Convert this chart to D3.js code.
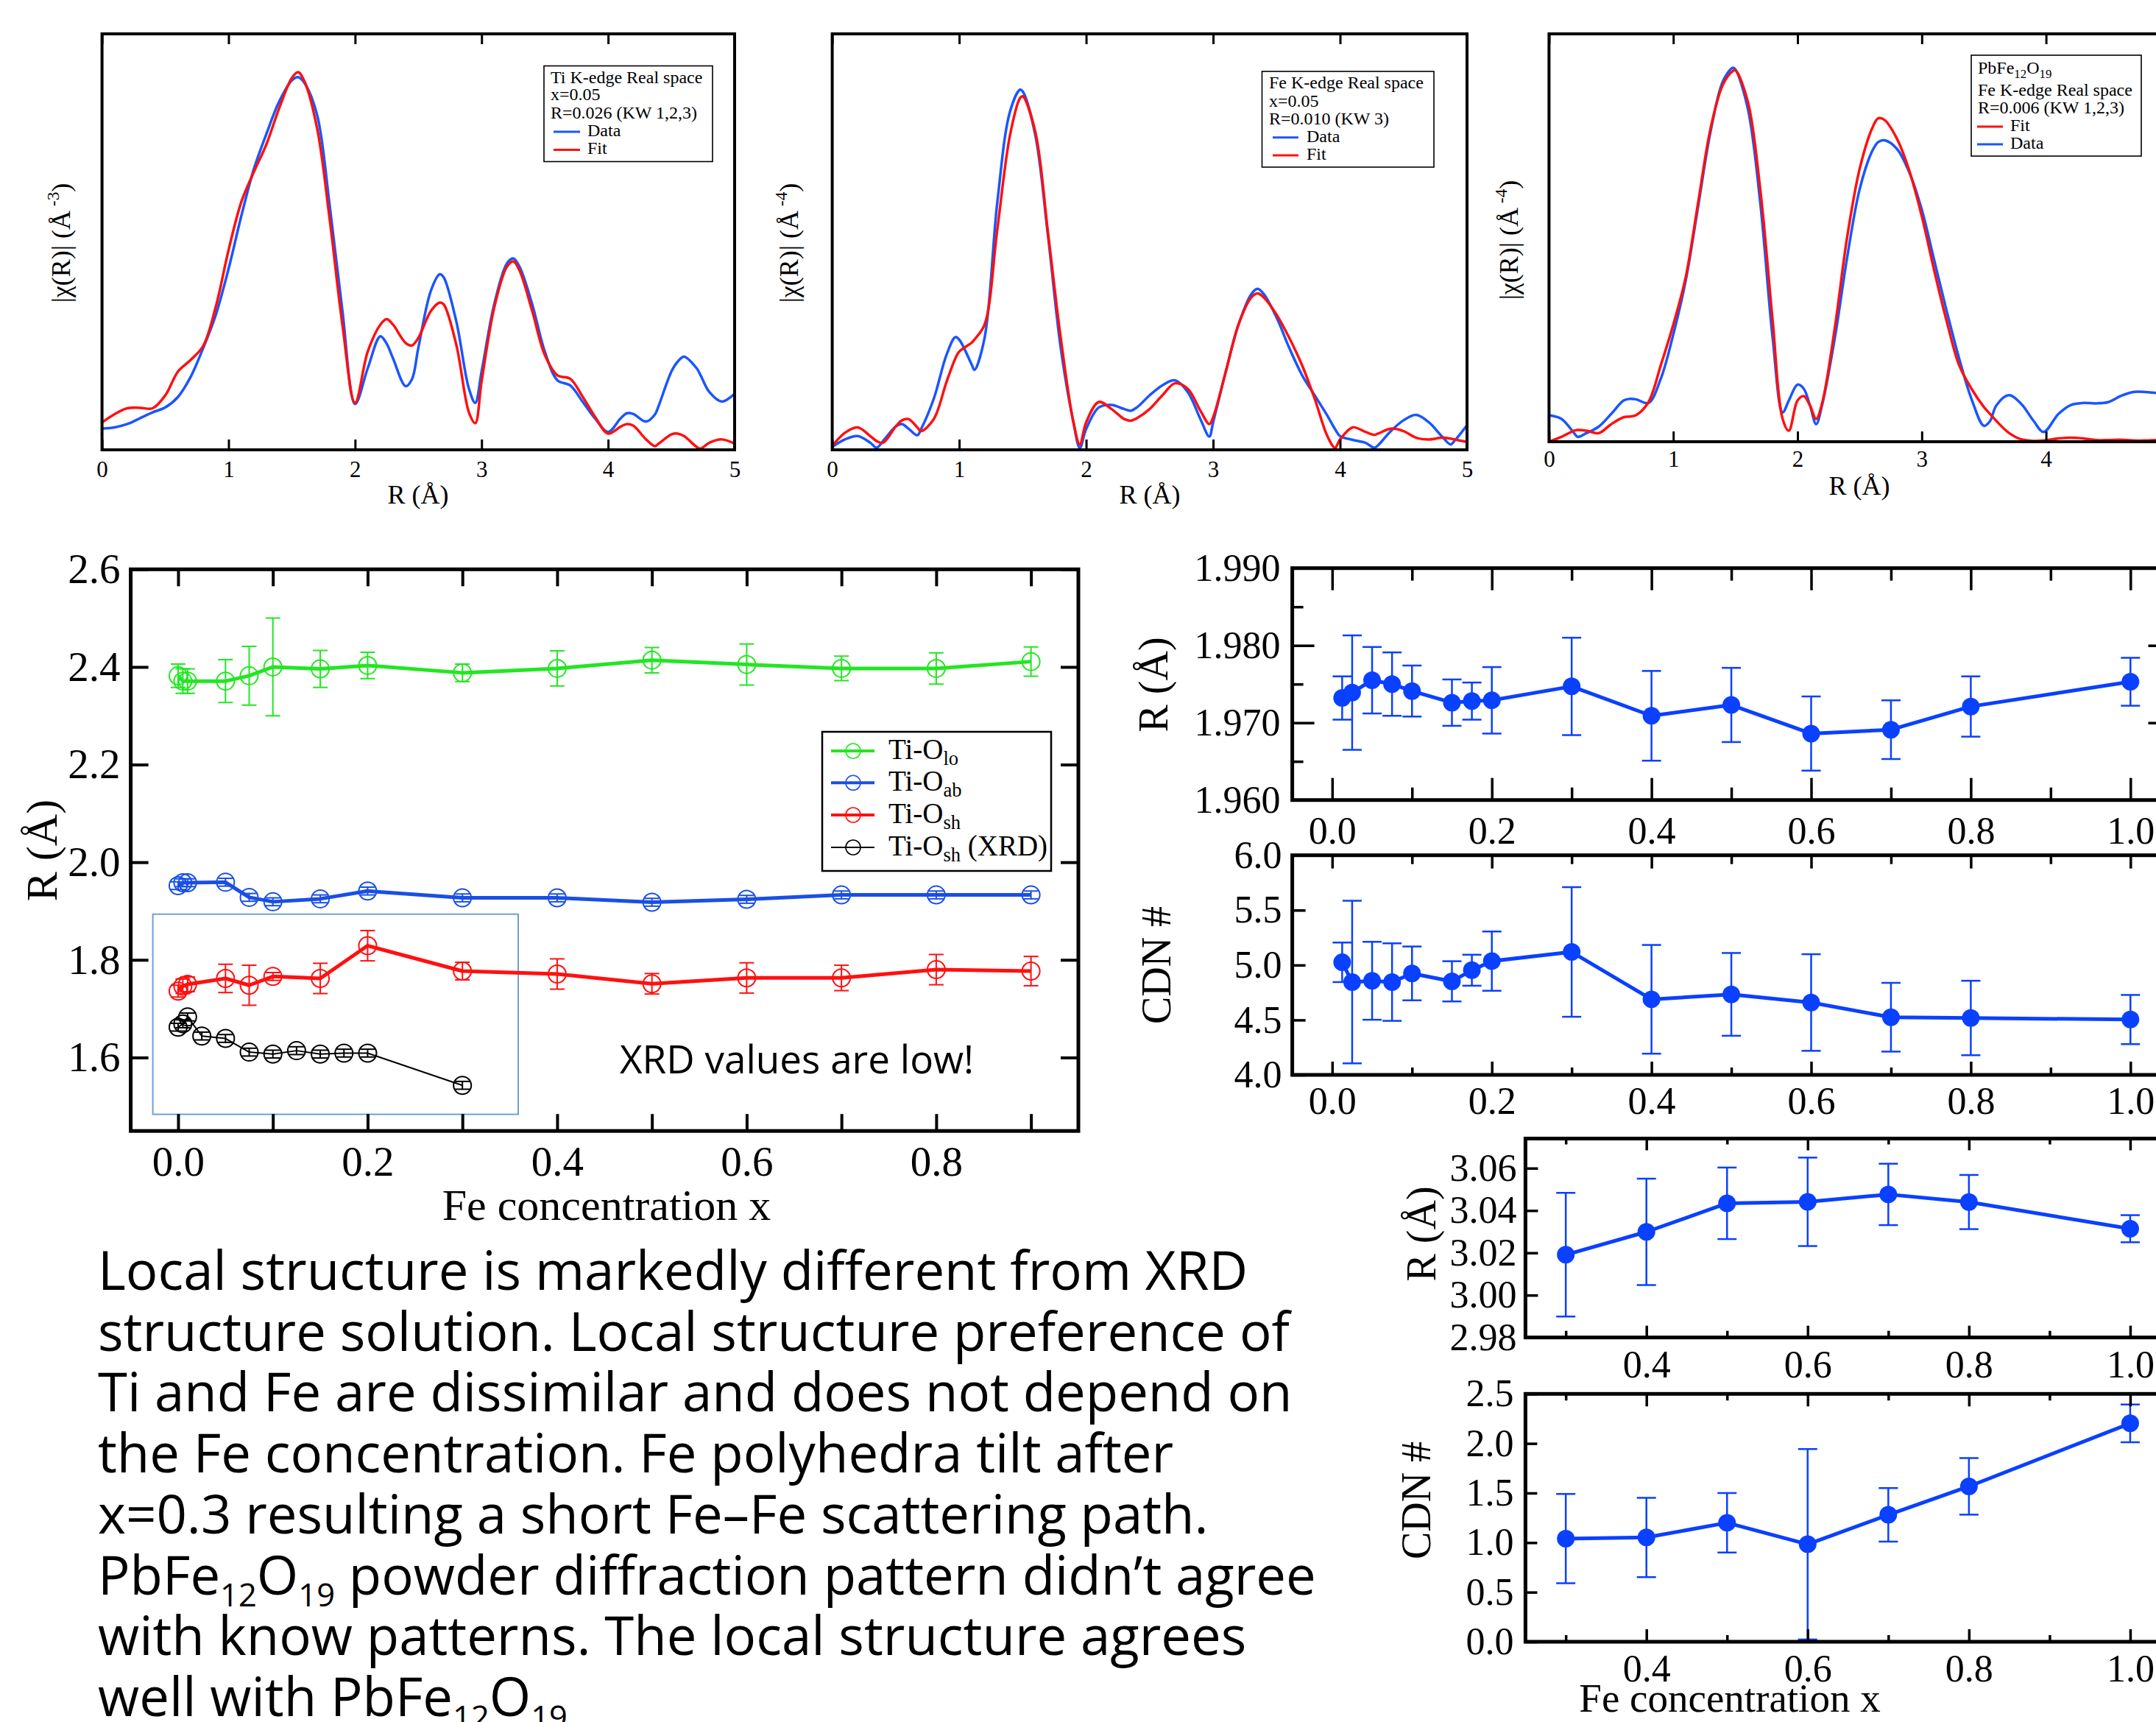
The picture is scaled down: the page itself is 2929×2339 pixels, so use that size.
<!DOCTYPE html>
<html><head><meta charset="utf-8">
<script src="https://cdn.jsdelivr.net/npm/d3@7/dist/d3.min.js"></script>
<style>body{margin:0;background:#fff}svg{display:block}</style>
</head><body>
<svg id="c" width="2929" height="2339"></svg>
<script>
// ================= DATA =================
// Panel A: Ti K-edge |chi(R)| (arbitrary units, fraction of frame height)
const gridTi = [0,0.1,0.2,0.3,0.4,0.5,0.6,0.7,0.8,0.9,1.0,1.1,1.2,1.3,1.4,1.5,
  1.55,1.6,1.7,1.8,1.9,2.0,
  2.1,2.2,2.25,2.3,2.4,2.45,2.5,2.6,2.67,2.7,2.8,2.9,2.95,3.0,
  3.1,3.2,3.25,3.3,3.4,3.5,3.6,3.7,3.8,3.9,4.0,
  4.1,4.15,4.2,4.3,4.37,4.4,4.5,4.55,4.6,4.7,4.73,4.8,4.9,5.0];
const tiDataChi = [0.051,0.054,0.062,0.076,0.090,0.102,0.127,0.175,0.245,0.325,0.435,0.561,0.675,0.760,0.837,0.888,
  0.896,0.882,0.805,0.586,0.334,0.110,
  0.196,0.273,0.255,0.220,0.153,0.170,0.245,0.383,0.422,0.415,0.309,0.147,0.113,0.188,
  0.350,0.448,0.460,0.440,0.350,0.236,0.167,0.155,0.115,0.074,0.043,
  0.076,0.088,0.086,0.068,0.085,0.106,0.188,0.212,0.224,0.196,0.180,0.139,0.116,0.135];
const tiFitChi = [0.066,0.086,0.100,0.101,0.100,0.131,0.188,0.216,0.250,0.345,0.480,0.595,0.668,0.735,0.821,0.894,
  0.908,0.886,0.773,0.553,0.301,0.113,
  0.236,0.301,0.314,0.301,0.257,0.251,0.269,0.334,0.354,0.350,0.253,0.090,0.064,0.164,
  0.342,0.440,0.453,0.431,0.334,0.228,0.179,0.171,0.127,0.078,0.039,
  0.056,0.062,0.058,0.025,0.009,0.015,0.037,0.039,0.033,0.007,0.003,0.017,0.025,0.015];

// Panel B: Fe K-edge x=0.05
const gridFe = [0,0.1,0.2,0.3,0.35,0.4,0.5,0.55,0.6,0.67,0.7,0.8,0.9,0.97,
  1.0,1.1,1.12,1.2,1.3,1.4,1.48,1.5,1.6,1.7,1.8,1.9,1.95,
  2.0,2.1,2.2,2.3,2.35,2.4,2.5,2.6,2.7,2.8,2.9,2.97,
  3.0,3.1,3.2,3.3,3.35,3.4,3.5,3.6,3.7,3.8,3.9,3.96,
  4.0,4.1,4.2,4.27,4.3,4.4,4.5,4.6,4.7,4.8,4.87,4.9,5.0];
const feDataChi = [0.007,0.025,0.033,0.017,0.005,0.021,0.056,0.062,0.051,0.035,0.050,0.123,0.228,0.271,
  0.265,0.204,0.192,0.269,0.594,0.813,0.866,0.862,0.756,0.513,0.245,0.066,0.005,
  0.050,0.102,0.108,0.098,0.094,0.102,0.131,0.155,0.167,0.139,0.074,0.032,
  0.066,0.188,0.301,0.374,0.387,0.374,0.318,0.245,0.180,0.131,0.082,0.050,
  0.033,0.024,0.017,0.005,0.011,0.045,0.071,0.084,0.066,0.033,0.013,0.021,0.059];
const feFitChi = [0.009,0.041,0.054,0.033,0.021,0.017,0.056,0.071,0.074,0.054,0.045,0.074,0.163,0.220,
  0.236,0.258,0.265,0.301,0.529,0.756,0.846,0.850,0.764,0.521,0.269,0.066,0.013,
  0.066,0.115,0.098,0.074,0.070,0.076,0.098,0.131,0.160,0.147,0.094,0.062,
  0.078,0.188,0.301,0.366,0.376,0.366,0.325,0.269,0.204,0.123,0.033,0.005,
  0.025,0.054,0.043,0.036,0.039,0.051,0.045,0.029,0.025,0.029,0.027,0.025,0.019];

// Panel C: PbFe12O19 Fe K-edge
const gridPb = [0,0.1,0.2,0.23,0.3,0.4,0.5,0.6,0.65,0.7,0.8,0.9,
  1.0,1.1,1.2,1.3,1.4,1.48,1.5,1.6,1.7,1.8,1.88,1.93,
  2.0,2.05,2.1,2.15,2.2,2.3,2.4,2.5,2.6,2.65,2.7,2.8,2.9,
  3.0,3.1,3.2,3.3,3.4,3.5,3.55,3.6,3.7,3.8,3.9,3.98,
  4.1,4.2,4.3,4.4,4.5,4.6,4.7,4.8,4.9,5.0];
const pbDataChi = [0.065,0.056,0.022,0.012,0.021,0.037,0.068,0.101,0.105,0.104,0.095,0.155,
  0.263,0.395,0.577,0.760,0.884,0.917,0.913,0.817,0.586,0.254,0.072,0.101,
  0.140,0.130,0.089,0.043,0.093,0.254,0.453,0.619,0.712,0.735,0.739,0.718,0.660,
  0.569,0.445,0.321,0.205,0.105,0.039,0.051,0.089,0.114,0.093,0.051,0.024,
  0.068,0.090,0.095,0.094,0.097,0.112,0.122,0.122,0.119,0.118];
const pbFitChi = [0.000,0.012,0.027,0.029,0.027,0.021,0.043,0.060,0.062,0.065,0.097,0.188,
  0.287,0.403,0.586,0.768,0.876,0.909,0.911,0.834,0.619,0.296,0.056,0.027,
  0.101,0.112,0.089,0.056,0.097,0.279,0.503,0.669,0.768,0.793,0.789,0.743,0.664,
  0.553,0.420,0.296,0.188,0.130,0.085,0.068,0.051,0.022,0.006,0.002,0.003,
  0.008,0.010,0.008,0.004,0.004,0.005,0.003,0.003,0.004,0.004];
const chiTicks = [0,1,2,3,4,5];

// Panel D: Ti-O distances vs Fe concentration
const xTi = [0,0.005,0.01,0.05,0.075,0.1,0.15,0.2,0.3,0.4,0.5,0.6,0.7,0.8,0.9];
const tiOlo = [2.382,2.371,2.371,2.371,2.382,2.400,2.396,2.403,2.388,2.397,2.414,2.405,2.397,2.397,2.411];
const tiOloErr = [0.024,0.025,0.025,0.044,0.060,0.100,0.038,0.027,0.018,0.036,0.026,0.042,0.025,0.032,0.030];
const tiOab = [1.952,1.958,1.958,1.959,1.928,1.919,1.925,1.941,1.927,1.927,1.918,1.924,1.933,1.933,1.933];
const tiOabErr = [0.008,0.008,0.008,0.008,0.008,0.008,0.008,0.008,0.008,0.008,0.008,0.008,0.008,0.008,0.008];
const tiOsh = [1.736,1.746,1.750,1.762,1.748,1.766,1.762,1.829,1.777,1.771,1.751,1.763,1.763,1.780,1.777];
const tiOshErr = [0.012,0.015,0.015,0.029,0.041,0.008,0.031,0.031,0.018,0.031,0.021,0.031,0.026,0.031,0.030];
const xXRD = [0,0.005,0.01,0.025,0.05,0.075,0.1,0.125,0.15,0.175,0.2,0.3];
const tiOshXRD = [1.662,1.669,1.683,1.644,1.639,1.611,1.607,1.614,1.607,1.609,1.609,1.543];
const tiOshXRDErr = [0.008,0.008,0.008,0.008,0.008,0.008,0.008,0.008,0.008,0.008,0.008,0.008];
const tiXTicks = [0,0.1,0.2,0.3,0.4,0.5,0.6,0.7,0.8,0.9];
const tiXLabels = [0,0.2,0.4,0.6,0.8];
const tiYTicks = [1.6,1.8,2.0,2.2,2.4,2.6];

// Panels E/F: Fe-O distance and coordination
const xFeO = [0.0125,0.025,0.05,0.075,0.1,0.15,0.175,0.2,0.3,0.4,0.5,0.6,0.7,0.8,1.0];
const feOR = [1.9732,1.9739,1.9755,1.9750,1.9741,1.9726,1.9728,1.9729,1.9747,1.9709,1.9723,1.9686,1.9691,1.9721,1.9753];
const feORErr = [0.0028,0.0074,0.0043,0.0041,0.0033,0.0030,0.0024,0.0043,0.0063,0.0058,0.0048,0.0048,0.0038,0.0039,0.0031];
const feON = [5.025,4.845,4.857,4.845,4.924,4.852,4.953,5.036,5.119,4.688,4.733,4.659,4.525,4.518,4.504];
const feONErr = [0.18,0.74,0.355,0.353,0.245,0.183,0.141,0.27,0.59,0.495,0.377,0.44,0.313,0.339,0.224];
const feOXMajor = [0,0.2,0.4,0.6,0.8,1.0];
const feOXMinor = [0.1,0.3,0.5,0.7,0.9];
const feORTicks = [1.96,1.97,1.98,1.99];
const feORMinor = [1.965,1.975,1.985];
const feONTicks = [4.0,4.5,5.0,5.5,6.0];

// Panels G/H: Fe-Fe distance and coordination
const xFeFe = [0.3,0.4,0.5,0.6,0.7,0.8,1.0];
const feFeR = [3.0191,3.0299,3.0434,3.0441,3.0476,3.0440,3.0314];
const feFeRErr = [0.0292,0.0251,0.0169,0.0209,0.0145,0.0128,0.0064];
const feFeN = [1.040,1.052,1.200,0.983,1.280,1.567,2.203];
const feFeNErr = [0.45,0.40,0.30,0.96,0.27,0.285,0.19];
const feFeXMajor = [0.4,0.6,0.8,1.0];
const feFeXMinor = [0.3,0.5,0.7,0.9];
const feFeRTicks = [2.98,3.00,3.02,3.04,3.06];
const feFeNTicks = [0.0,0.5,1.0,1.5,2.0,2.5];

// ================= DRAWING =================
const svg = d3.select("#c");
const defs = svg.append("defs");
const SERIF = "'Liberation Serif','Times New Roman',Times,serif";
const SANS = "'Open Sans','Noto Sans',sans-serif";
const C_BLUE = "#1a55ff", C_RED = "#ff1010", C_GREEN = "#22e622", C_DBLUE = "#1a4fe6", C_FE = "#0a40ff";

function richText(parent, x, y, parts, fs, family, anchor, subScale, subShift) {
  const t = parent.append("text").attr("x", x).attr("y", y)
    .attr("font-family", family).attr("font-size", fs)
    .attr("text-anchor", anchor || "start").attr("fill", "#000");
  let cur = 0;
  parts.forEach(p => {
    const s = typeof p === "string" ? p : p[0];
    const kind = typeof p === "string" ? null : p[1];
    const target = kind === "sub" ? fs * subShift : (kind === "sup" ? -fs * 0.42 : 0);
    const ts = t.append("tspan").text(s).attr("dy", target - cur);
    if (kind) ts.attr("font-size", fs * subScale);
    cur = target;
  });
  return t;
}

function styleAxis(sel, fs, tw) {
  sel.select(".domain").remove();
  sel.selectAll(".tick line").attr("stroke", "#000").attr("stroke-width", tw);
  sel.selectAll(".tick text").attr("font-family", SERIF).attr("font-size", fs).attr("fill", "#000");
}

function clipRect(id, x0, y0, x1, y1) {
  defs.append("clipPath").attr("id", id).append("rect")
    .attr("x", x0).attr("y", y0).attr("width", x1 - x0).attr("height", y1 - y0);
  return `url(#${id})`;
}

// ---------- chi(R) panels ----------
function chiPanel(o) {
  const x = d3.scaleLinear().domain([0, 5]).range([o.l, o.r]);
  const y = d3.scaleLinear().domain([0, 1]).range([o.b, o.t]);
  const g = svg.append("g");
  const clip = clipRect("clip" + o.id, o.l, o.t, o.r, o.b);
  const line = d3.line().x((d, i) => x(o.grid[i])).y(d => y(d)).curve(d3.curveCatmullRom.alpha(0.5));
  o.series.forEach(s => g.append("path").attr("d", line(s.v)).attr("fill", "none")
    .attr("stroke", s.c).attr("stroke-width", 3.5).attr("stroke-linejoin", "round").attr("clip-path", clip));
  const ab = g.append("g").attr("transform", `translate(0,${o.b})`)
    .call(d3.axisBottom(x).tickValues(chiTicks).tickSize(-14).tickPadding(o.pad).tickFormat(d3.format("d")));
  styleAxis(ab, 31, 3);
  const at = g.append("g").attr("transform", `translate(0,${o.t})`)
    .call(d3.axisTop(x).tickValues(chiTicks).tickSize(-14).tickFormat(""));
  styleAxis(at, 31, 3);
  g.append("rect").attr("x", o.l).attr("y", o.t).attr("width", o.r - o.l).attr("height", o.b - o.t)
    .attr("fill", "none").attr("stroke", "#000").attr("stroke-width", 4);
  richText(g, o.xlx, o.xly, ["R (Å)"], 36, SERIF, "middle", 1, 0);
  const yl = g.append("g").attr("transform", `translate(${o.ylx},${o.yly}) rotate(-90)`);
  richText(yl, 0, 0, ["|χ(R)| (Å", [" -" + o.pow, "sup"], ")"], 36, SERIF, "middle", 0.65, 0);
  // legend
  const L = o.leg;
  g.append("rect").attr("x", L.x0).attr("y", L.y0).attr("width", L.x1 - L.x0).attr("height", L.y1 - L.y0)
    .attr("fill", "#fff").attr("stroke", "#000").attr("stroke-width", 1.6);
  L.rows.forEach(r => {
    if (r.c) {
      g.append("line").attr("x1", L.lx0).attr("x2", L.lx1).attr("y1", r.y - 6).attr("y2", r.y - 6)
        .attr("stroke", r.c).attr("stroke-width", 3);
      richText(g, L.tx2, r.y, r.parts, 24, SERIF, "start", 0.7, 0.25);
    } else {
      richText(g, L.tx, r.y, r.parts, 24, SERIF, "start", 0.7, 0.25);
    }
  });
}

chiPanel({id: "A", l: 138.6, r: 998, t: 46, b: 611, pad: 15, grid: gridTi,
  series: [{v: tiDataChi, c: C_BLUE}, {v: tiFitChi, c: C_RED}],
  xlx: 568, xly: 684, ylx: 95, yly: 330, pow: "3",
  leg: {x0: 739, y0: 89.5, x1: 968, y1: 219.5, tx: 748, tx2: 798, lx0: 752, lx1: 788,
    rows: [{y: 112.5, parts: ["Ti K-edge Real space"]}, {y: 136.4, parts: ["x=0.05"]},
      {y: 160.7, parts: ["R=0.026 (KW 1,2,3)"]}, {y: 185, parts: ["Data"], c: C_BLUE},
      {y: 209.4, parts: ["Fit"], c: C_RED}]}});

chiPanel({id: "B", l: 1130.6, r: 1993, t: 46, b: 611, pad: 15, grid: gridFe,
  series: [{v: feDataChi, c: C_BLUE}, {v: feFitChi, c: C_RED}],
  xlx: 1562, xly: 684, ylx: 1084, yly: 330, pow: "4",
  leg: {x0: 1714.5, y0: 97, x1: 1948, y1: 227, tx: 1724, tx2: 1775, lx0: 1729, lx1: 1764,
    rows: [{y: 120.3, parts: ["Fe K-edge Real space"]}, {y: 144.6, parts: ["x=0.05"]},
      {y: 169, parts: ["R=0.010 (KW 3)"]}, {y: 192.8, parts: ["Data"], c: C_BLUE},
      {y: 217, parts: ["Fit"], c: C_RED}]}});

chiPanel({id: "C", l: 2104.4, r: 2948.4, t: 46, b: 600, pad: 12, grid: gridPb,
  series: [{v: pbDataChi, c: C_BLUE}, {v: pbFitChi, c: C_RED}],
  xlx: 2526, xly: 672, ylx: 2062, yly: 326, pow: "4",
  leg: {x0: 2678, y0: 75, x1: 2909, y1: 212, tx: 2687, tx2: 2731, lx0: 2686, lx1: 2721,
    rows: [{y: 100, parts: ["PbFe", ["12", "sub"], "O", ["19", "sub"]]}, {y: 129.5, parts: ["Fe K-edge Real space"]},
      {y: 153.8, parts: ["R=0.006 (KW 1,2,3)"]}, {y: 178, parts: ["Fit"], c: C_RED},
      {y: 202, parts: ["Data"], c: C_BLUE}]}});

// ---------- Panel D ----------
(function () {
  const l = 177.6, r = 1465, t = 773.3, b = 1536.2;
  const x = d3.scaleLinear().domain([-0.05, 0.95]).range([l, r]);
  const y = d3.scaleLinear().domain([1.4495, 2.6]).range([b, t]);
  const g = svg.append("g");
  const clip = clipRect("clipD", l, t, r, b);
  // inset box
  g.append("rect").attr("x", 207.6).attr("y", 1241.7).attr("width", 496.4).attr("height", 271.9)
    .attr("fill", "none").attr("stroke", "#6f9fd8").attr("stroke-width", 2);
  const series = [
    {xs: xTi, v: tiOlo, e: tiOloErr, c: C_GREEN, w: 5},
    {xs: xTi, v: tiOab, e: tiOabErr, c: C_DBLUE, w: 5},
    {xs: xTi, v: tiOsh, e: tiOshErr, c: C_RED, w: 5},
    {xs: xXRD, v: tiOshXRD, e: tiOshXRDErr, c: "#000", w: 2}
  ];
  series.forEach(s => {
    const ln = d3.line().x((d, i) => x(s.xs[i])).y(d => y(d));
    g.append("path").attr("d", ln(s.v)).attr("fill", "none").attr("stroke", s.c)
      .attr("stroke-width", s.w).attr("stroke-linejoin", "round").attr("clip-path", clip);
    const eg = g.append("g").attr("stroke", s.c).attr("stroke-width", 2).attr("clip-path", clip);
    s.v.forEach((v, i) => {
      const cx = x(s.xs[i]), y0 = y(v - s.e[i]), y1 = y(v + s.e[i]);
      eg.append("line").attr("x1", cx).attr("x2", cx).attr("y1", y0).attr("y2", y1);
      eg.append("line").attr("x1", cx - 10).attr("x2", cx + 10).attr("y1", y0).attr("y2", y0);
      eg.append("line").attr("x1", cx - 10).attr("x2", cx + 10).attr("y1", y1).attr("y2", y1);
    });
    g.append("g").selectAll("circle").data(s.v).join("circle")
      .attr("cx", (d, i) => x(s.xs[i])).attr("cy", d => y(d)).attr("r", 12)
      .attr("fill", "none").attr("stroke", s.c).attr("stroke-width", 2);
  });
  const fmt1 = d3.format(".1f");
  const ab = g.append("g").attr("transform", `translate(0,${b})`)
    .call(d3.axisBottom(x).tickValues(tiXTicks).tickSize(-23).tickPadding(20)
      .tickFormat(d => tiXLabels.some(v => Math.abs(v - d) < 1e-9) ? fmt1(d) : ""));
  styleAxis(ab, 57, 4);
  const at = g.append("g").attr("transform", `translate(0,${t})`)
    .call(d3.axisTop(x).tickValues(tiXTicks).tickSize(-23).tickFormat(""));
  styleAxis(at, 57, 4);
  const al = g.append("g").attr("transform", `translate(${l},0)`)
    .call(d3.axisLeft(y).tickValues(tiYTicks).tickSize(-24).tickPadding(14).tickFormat(fmt1));
  styleAxis(al, 57, 4);
  const ar = g.append("g").attr("transform", `translate(${r},0)`)
    .call(d3.axisRight(y).tickValues(tiYTicks).tickSize(-24).tickFormat(""));
  styleAxis(ar, 57, 4);
  g.append("rect").attr("x", l).attr("y", t).attr("width", r - l).attr("height", b - t)
    .attr("fill", "none").attr("stroke", "#000").attr("stroke-width", 5);
  richText(g, 824, 1657, ["Fe concentration x"], 60, SERIF, "middle", 1, 0);
  const yl = g.append("g").attr("transform", `translate(77,1155) rotate(-90)`);
  richText(yl, 0, 0, ["R (Å)"], 60, SERIF, "middle", 1, 0);
  richText(g, 842, 1458, ["XRD values are low!"], 53, SANS, "start", 1, 0);
  // legend
  g.append("rect").attr("x", 1117).attr("y", 994).attr("width", 311).attr("height", 189)
    .attr("fill", "#fff").attr("stroke", "#000").attr("stroke-width", 2.5);
  const legRows = [
    {y: 1020, c: C_GREEN, w: 4, parts: ["Ti-O", ["lo", "sub"]]},
    {y: 1063.3, c: C_DBLUE, w: 4, parts: ["Ti-O", ["ab", "sub"]]},
    {y: 1107, c: C_RED, w: 4, parts: ["Ti-O", ["sh", "sub"]]},
    {y: 1151, c: "#000", w: 2, parts: ["Ti-O", ["sh", "sub"], " (XRD)"]}
  ];
  legRows.forEach(rw => {
    g.append("line").attr("x1", 1129).attr("x2", 1188).attr("y1", rw.y).attr("y2", rw.y)
      .attr("stroke", rw.c).attr("stroke-width", rw.w);
    g.append("circle").attr("cx", 1159).attr("cy", rw.y).attr("r", 10).attr("fill", "none")
      .attr("stroke", rw.c).attr("stroke-width", 1.6);
    richText(g, 1207, rw.y + 11, rw.parts, 39, SERIF, "start", 0.68, 0.2);
  });
})();

// ---------- Panels E-H ----------
function fePanel(o) {
  const x = d3.scaleLinear().domain(o.xd).range([o.l, o.r]);
  const y = d3.scaleLinear().domain(o.yd).range([o.b, o.t]);
  const g = svg.append("g");
  const clip = clipRect("clip" + o.id, o.l, o.t - 30, o.r, o.b);
  const ln = d3.line().x((d, i) => x(o.xs[i])).y(d => y(d));
  g.append("path").attr("d", ln(o.v)).attr("fill", "none").attr("stroke", C_FE)
    .attr("stroke-width", 5).attr("stroke-linejoin", "round");
  const eg = g.append("g").attr("stroke", C_FE).attr("stroke-width", 2.5).attr("clip-path", clip);
  o.v.forEach((v, i) => {
    const cx = x(o.xs[i]), y0 = y(v - o.e[i]), y1 = y(v + o.e[i]);
    eg.append("line").attr("x1", cx).attr("x2", cx).attr("y1", y0).attr("y2", y1);
    eg.append("line").attr("x1", cx - 13).attr("x2", cx + 13).attr("y1", y0).attr("y2", y0);
    eg.append("line").attr("x1", cx - 13).attr("x2", cx + 13).attr("y1", y1).attr("y2", y1);
  });
  g.append("g").selectAll("circle").data(o.v).join("circle")
    .attr("cx", (d, i) => x(o.xs[i])).attr("cy", d => y(d)).attr("r", 12).attr("fill", C_FE);
  const fx = d3.format(".1f");
  const ab = g.append("g").attr("transform", `translate(0,${o.b})`)
    .call(d3.axisBottom(x).tickValues(o.xMaj).tickSize(-o.tMaj).tickPadding(o.xpad).tickFormat(fx));
  styleAxis(ab, 52, 3.5);
  const abm = g.append("g").attr("transform", `translate(0,${o.b})`)
    .call(d3.axisBottom(x).tickValues(o.xMin).tickSize(-o.tMin).tickFormat(""));
  styleAxis(abm, 52, 3.5);
  const at = g.append("g").attr("transform", `translate(0,${o.t})`)
    .call(d3.axisTop(x).tickValues(o.xMaj).tickSize(-o.tMajT).tickFormat(""));
  styleAxis(at, 52, 3.5);
  const atm = g.append("g").attr("transform", `translate(0,${o.t})`)
    .call(d3.axisTop(x).tickValues(o.xMin).tickSize(-o.tMinT).tickFormat(""));
  styleAxis(atm, 52, 3.5);
  const al = g.append("g").attr("transform", `translate(${o.l},0)`)
    .call(d3.axisLeft(y).tickValues(o.yMaj).tickSize(-o.tY).tickPadding(o.ypad).tickFormat(d3.format(o.yf)));
  styleAxis(al, 52, 3.5);
  const ar = g.append("g").attr("transform", `translate(${o.r},0)`)
    .call(d3.axisRight(y).tickValues(o.yMaj).tickSize(-o.tY).tickFormat(""));
  styleAxis(ar, 52, 3.5);
  if (o.yMin) {
    const alm = g.append("g").attr("transform", `translate(${o.l},0)`)
      .call(d3.axisLeft(y).tickValues(o.yMin).tickSize(-o.tYm).tickFormat(""));
    styleAxis(alm, 52, 3.5);
  }
  g.append("rect").attr("x", o.l).attr("y", o.t).attr("width", o.r - o.l).attr("height", o.b - o.t)
    .attr("fill", "none").attr("stroke", "#000").attr("stroke-width", 5);
  const yl = g.append("g").attr("transform", `translate(${o.ylx},${o.yly}) rotate(-90)`);
  richText(yl, 0, 0, [o.ylab], 56, SERIF, "middle", 1, 0);
  if (o.xlab) richText(g, o.xlab[0], o.xlab[1], ["Fe concentration x"], 55, SERIF, "middle", 1, 0);
}

fePanel({id: "E", xd: [-0.05, 1.05], l: 1755.6, r: 2948.5, yd: [1.96, 1.99], t: 771.7, b: 1086.7,
  xs: xFeO, v: feOR, e: feORErr, xMaj: feOXMajor, xMin: feOXMinor, tMaj: 30, tMin: 17, tMajT: 30, tMinT: 17,
  yMaj: feORTicks, yMin: feORMinor, tY: 30, tYm: 15, yf: ".3f", xpad: 22, ypad: 16,
  ylab: "R (Å)", ylx: 1586, yly: 930});
fePanel({id: "F", xd: [-0.05, 1.05], l: 1755.6, r: 2948.5, yd: [4.0, 6.0], t: 1161.7, b: 1460,
  xs: xFeO, v: feON, e: feONErr, xMaj: feOXMajor, xMin: feOXMinor, tMaj: 18, tMin: 10, tMajT: 18, tMinT: 12,
  yMaj: feONTicks, tY: 18, yf: ".1f", xpad: 16, ypad: 14,
  ylab: "CDN  #", ylx: 1590, yly: 1311});
fePanel({id: "G", xd: [0.25, 1.05], l: 2072.4, r: 2948.7, yd: [2.98, 3.074], t: 1546.5, b: 1816.7,
  xs: xFeFe, v: feFeR, e: feFeRErr, xMaj: feFeXMajor, xMin: feFeXMinor, tMaj: 16, tMin: 9, tMajT: 16, tMinT: 8,
  yMaj: feFeRTicks, tY: 17, yf: ".2f", xpad: 17, ypad: 12,
  ylab: "R (Å)", ylx: 1950, yly: 1676});
fePanel({id: "H", xd: [0.25, 1.05], l: 2072.4, r: 2948.7, yd: [0, 2.5], t: 1893.3, b: 2230,
  xs: xFeFe, v: feFeN, e: feFeNErr, xMaj: feFeXMajor, xMin: feFeXMinor, tMaj: 17, tMin: 9, tMajT: 17, tMinT: 9,
  yMaj: feFeNTicks, tY: 16, yf: ".1f", xpad: 17, ypad: 16,
  ylab: "CDN  #", ylx: 1943, yly: 2038, xlab: [2350, 2325]});

// ---------- Paragraph ----------
const paraLines = [
  ["Local structure is markedly different from XRD"],
  ["structure solution. Local structure preference of"],
  ["Ti and Fe are dissimilar and does not depend on"],
  ["the Fe concentration. Fe polyhedra tilt after"],
  ["x=0.3 resulting a short Fe–Fe scattering path."],
  ["PbFe", ["12", "sub"], "O", ["19", "sub"], " powder diffraction pattern didn’t agree"],
  ["with know patterns. The local structure agrees"],
  ["well with PbFe", ["12", "sub"], "O", ["19", "sub"]]
];
paraLines.forEach((parts, i) => {
  richText(svg, 133, 1752 + i * 82.7, parts, 72.5, SANS, "start", 0.6, 0.23);
});
</script>
</body></html>
